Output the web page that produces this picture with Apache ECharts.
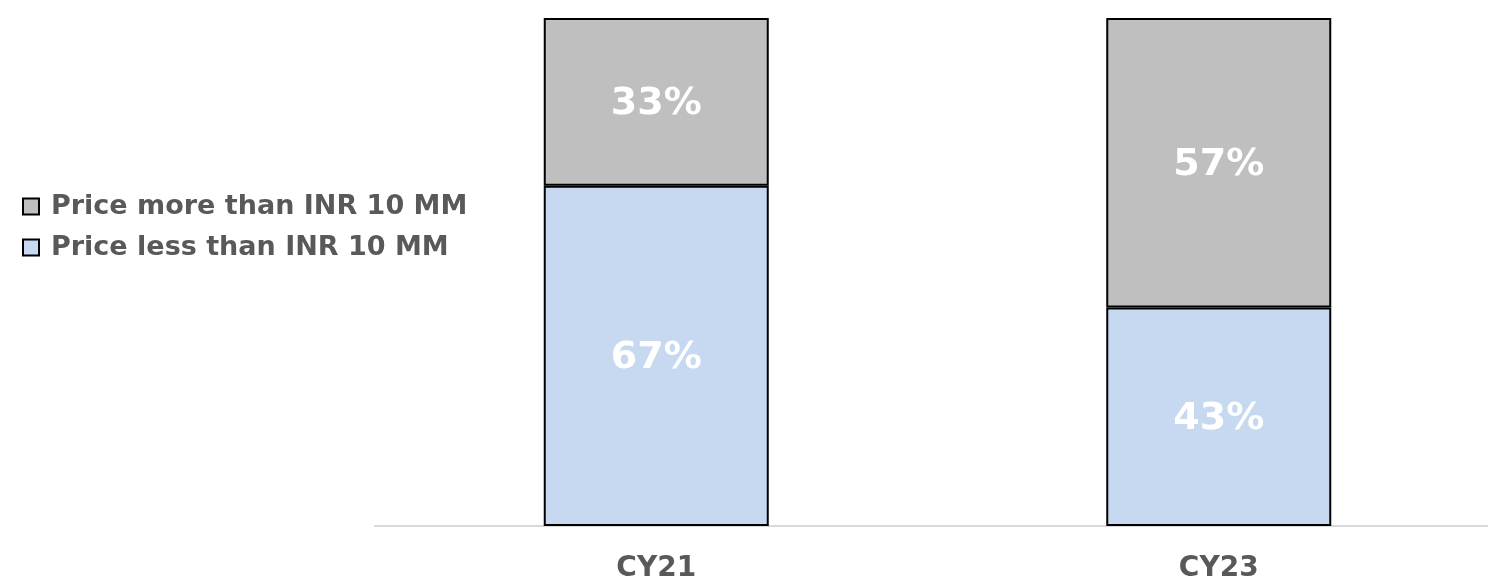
<!DOCTYPE html>
<html>
<head>
<meta charset="utf-8">
<script src="https://cdn.jsdelivr.net/npm/echarts@6/dist/echarts.min.js"></script>
<style>
    html, body {margin: 0; padding: 0; background: #fff; overflow: hidden;}
    #chart {width: 1500px; height: 584px;}
</style>
</head>
<body>
<div id="chart"></div>
<script>
const categories = ["CY21", "CY23"];
const lessThan10 = [67, 43];
const moreThan10 = [33, 57];
const legendNames = ["Price more than INR 10 MM", "Price less than INR 10 MM"];

const chart = echarts.init(document.getElementById("chart"));

const barLabel = {
    show: true,
    position: "inside",
    color: "#fff",
    fontSize: 38,
    fontWeight: "bold",
    fontFamily: "DejaVu Sans",
    offset: [0, 2],
    formatter: p => `${p.value}%`
};

chart.setOption({
    animation: false,
    textStyle: {fontFamily: "DejaVu Sans"},
    legend: {
        orient: "vertical",
        left: 17,
        top: 188,
        itemWidth: 16,
        itemHeight: 16,
        itemGap: 14,
        icon: "rect",
        data: legendNames,
        textStyle: {color: "#595959", fontSize: 27, fontWeight: "bold", padding: [0, 0, 0, 7]}
    },
    grid: {left: 375, top: 18, width: 1125, bottom: 58},
    xAxis: {
        type: "category",
        data: categories,
        axisLine: {lineStyle: {color: "#d9d9d9", width: 2}},
        axisTick: {show: false},
        axisLabel: {color: "#595959", fontSize: 28, fontWeight: "bold", margin: 29}
    },
    yAxis: {
        type: "value",
        min: 0,
        max: 100,
        show: false
    },
    series: [
        {
            name: legendNames[1],
            type: "bar",
            stack: "total",
            barWidth: 225,
            data: lessThan10,
            itemStyle: {color: "#c6d9f0", borderColor: "#000", borderWidth: 2},
            label: barLabel
        },
        {
            name: legendNames[0],
            type: "bar",
            stack: "total",
            barWidth: 225,
            data: moreThan10,
            itemStyle: {color: "#bfbfbf", borderColor: "#000", borderWidth: 2},
            label: barLabel
        }
    ]
});
</script>
</body>
</html>
